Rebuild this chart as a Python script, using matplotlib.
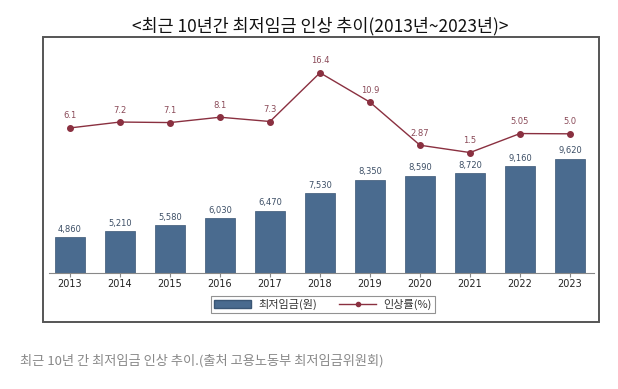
import matplotlib.pyplot as plt
from matplotlib.patches import Rectangle, Patch
from matplotlib.lines import Line2D

plt.rcParams['font.family'] = ['Noto Sans CJK KR', 'DejaVu Sans']

# data
years = ['2013', '2014', '2015', '2016', '2017', '2018', '2019', '2020', '2021', '2022', '2023']
wage = [4860, 5210, 5580, 6030, 6470, 7530, 8350, 8590, 8720, 9160, 9620]
rate = [6.1, 7.2, 7.1, 8.1, 7.3, 16.4, 10.9, 2.87, 1.5, 5.05, 5.0]
rate_labels = ['6.1', '7.2', '7.1', '8.1', '7.3', '16.4', '10.9', '2.87', '1.5', '5.05', '5.0']

bar_color = '#4a6b8f'
line_color = '#8a3040'

fig = plt.figure(figsize=(6.18, 3.89), dpi=100)

# outer frame
fig.patches.append(Rectangle((43 / 618, 1 - 322 / 389), 556 / 618, 285 / 389,
                             transform=fig.transFigure, fill=False,
                             edgecolor='#555555', linewidth=1.4))

ax = fig.add_axes([49 / 618, 1 - 272.5 / 389, 545 / 618, 222 / 389])
x = range(len(years))
ax.bar(x, wage, width=0.6, color=bar_color, edgecolor='#3a5675', linewidth=0.5, zorder=2)
for i, v in enumerate(wage):
    ax.text(i, v + 200, f'{v:,}', ha='center', va='bottom', fontsize=6,
            color='#3d4f66', family=['DejaVu Sans'])
ax.set_xlim(-0.42, 10.48)
ax.set_ylim(2725, 16155)
ax.set_yticks([])
for s in ['top', 'left', 'right']:
    ax.spines[s].set_visible(False)
ax.spines['bottom'].set_color('#888888')
ax.set_xticks(list(x))
ax.set_xticklabels(years, fontsize=7, color='#222222', family=['DejaVu Sans'])
ax.tick_params(axis='x', length=3, color='#888888', pad=2)

ax2 = ax.twinx()
ax2.plot(x, rate, color=line_color, linewidth=1, marker='o', markersize=4, zorder=3)
for i, v in enumerate(rate):
    ax2.text(i, v + 1.4, rate_labels[i], ha='center', va='bottom', fontsize=6,
             color='#8a4a58', family=['DejaVu Sans'])
ax2.set_ylim(-20.9, 20.56)
ax2.set_yticks([])
ax2.axis('off')

handles = [Patch(facecolor=bar_color, edgecolor='#3a5675'),
           Line2D([], [], color=line_color, marker='o', markersize=3, linewidth=1)]
leg = fig.legend(handles, ['최저임금(원)', '인상률(%)'], ncol=2, loc='center',
                 bbox_to_anchor=(323 / 618, 1 - 304.5 / 389), fontsize=8,
                 frameon=True, fancybox=False, edgecolor='#777777',
                 handlelength=3.3, handleheight=0.7, columnspacing=2.0,
                 borderpad=0.3, handletextpad=0.7, labelcolor='#333333')
leg.get_frame().set_linewidth(0.8)

fig.text(320 / 618, 1 - 26 / 389, '<최근 10년간 최저임금 인상 추이(2013년~2023년)>',
         ha='center', va='center', fontsize=12.5, color='#111111')

fig.text(20 / 618, 1 - 361 / 389, '최근 10년 간 최저임금 인상 추이.(출처 고용노동부 최저임금위원회)',
         ha='left', va='center', fontsize=9.5, color='#888888')

fig.savefig('out.png', dpi=100, facecolor='white')
